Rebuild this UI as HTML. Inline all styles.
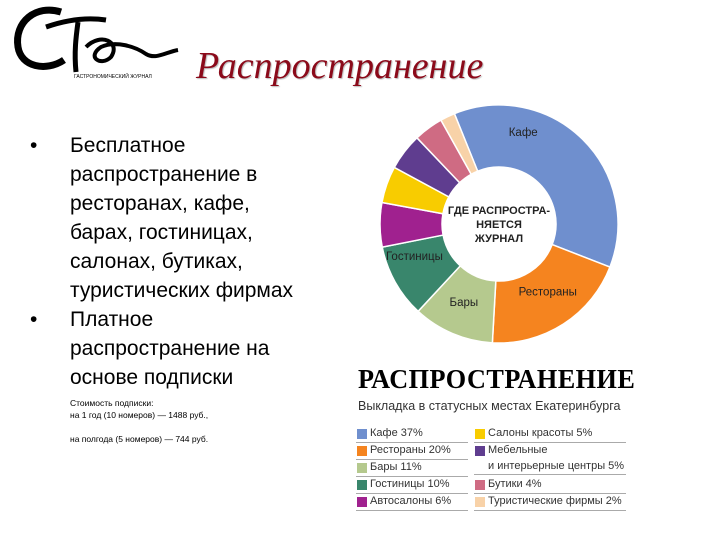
<!DOCTYPE html>
<html><head><meta charset="utf-8"><style>
body{margin:0;width:720px;height:540px;background:#fff;overflow:hidden;position:relative;font-family:"Liberation Sans","DejaVu Sans",sans-serif}
.abs{position:absolute}
</style></head><body>
<div class="abs" style="left:6px;top:2px;width:180px;height:80px">
<svg width="180" height="80">
<path d="M55 10 C30 2 8 20 12 45 C15 65 40 70 58 58" fill="none" stroke="#000" stroke-width="7"/>
<path d="M40 25 C60 18 80 15 100 18 M72 20 C70 35 68 50 70 70" fill="none" stroke="#000" stroke-width="5"/>
<path d="M80 45 C95 30 115 40 105 55 C95 65 80 55 95 45 C110 38 130 45 140 52 C150 58 160 50 172 48" fill="none" stroke="#000" stroke-width="4"/>
<text x="68" y="76" font-size="5" font-family="Liberation Sans" fill="#000">ГАСТРОНОМИЧЕСКИЙ ЖУРНАЛ</text>
</svg></div>
<div class="abs" style="left:196px;top:44px;font-family:'Liberation Serif',serif;font-style:italic;font-size:38px;color:#8b0a1a;text-shadow:1px 1px 1px #bbb">Распространение</div>
<div class="abs" style="left:30px;top:131px;font-size:21px;line-height:29px;color:#000;width:300px">
<div style="position:relative;padding-left:40px">
<span style="position:absolute;left:0">•</span>Бесплатное<br>распространение в<br>ресторанах, кафе,<br>барах, гостиницах,<br>салонах, бутиках,<br>туристических фирмах</div>
<div style="position:relative;padding-left:40px">
<span style="position:absolute;left:0">•</span>Платное<br>распространение на<br>основе подписки</div>
</div>
<div class="abs" style="left:70px;top:397px;font-size:8.5px;line-height:12px">Стоимость подписки:<br>на 1 год (10 номеров) — 1488 руб.,<br><br>на полгода (5 номеров) — 744 руб.</div>
<svg class="abs" id="chart" style="left:0;top:0" width="720" height="540"></svg>
<div class="abs" style="left:358px;top:364px;font-family:'Liberation Serif',serif;font-weight:bold;font-size:27px;letter-spacing:0.5px;transform:scaleX(0.97);transform-origin:left">РАСПРОСТРАНЕНИЕ</div>
<div class="abs" style="left:358px;top:399px;font-size:12.5px;color:#333">Выкладка в статусных местах Екатеринбурга</div>
<div class="abs" id="legend" style="left:356px;top:426px;width:280px;font-size:11px;color:#333"></div>
<script>
const categories=["Кафе","Рестораны","Бары","Гостиницы","Автосалоны","Салоны красоты","Мебельные и интерьерные центры","Бутики","Туристические фирмы"];
const values=[37,20,11,10,6,5,5,4,2];
const colors=["#6f8fce","#f5841f","#b5c98e","#39866c","#a0218f","#f8cc00","#5f3d8f","#cf6b83","#f8d2a8"];
const sliceLabels=["Кафе","Рестораны","Бары","Гостиницы","","","","",""];
const legendText=["Кафе 37%","Рестораны 20%","Бары 11%","Гостиницы 10%","Автосалоны 6%","Салоны красоты 5%","Мебельные<br>и интерьерные центры 5%","Бутики 4%","Туристические фирмы 2%"];
const labelOffsets=[[-46,-21],[0,-8],[0,-5],[-6,-12]];
const NS="http://www.w3.org/2000/svg";
const svg=document.getElementById('chart');
const cx=499,cy=224,R=119,r=57,start=-22;
const total=values.reduce((a,b)=>a+b,0);
function pt(a,rad){const t=(a-90)*Math.PI/180;return[cx+rad*Math.cos(t),cy+rad*Math.sin(t)];}
let acc=0;
values.forEach((v,i)=>{
const a0=start+acc/total*360,a1=start+(acc+v)/total*360;acc+=v;
const large=(a1-a0)>180?1:0;
const p0=pt(a0,R),p1=pt(a1,R),q1=pt(a1,r),q0=pt(a0,r);
const p=document.createElementNS(NS,'path');
p.setAttribute('d',`M${p0[0]},${p0[1]}A${R},${R} 0 ${large} 1 ${p1[0]},${p1[1]}L${q1[0]},${q1[1]}A${r},${r} 0 ${large} 0 ${q0[0]},${q0[1]}Z`);
p.setAttribute('fill',colors[i]);p.setAttribute('stroke','#fff');p.setAttribute('stroke-width','1.5');


svg.appendChild(p);
if(sliceLabels[i]){
const m=(a0+a1)/2;const lp=pt(m,i==0?100:90);const o=labelOffsets[i];
const t=document.createElementNS(NS,'text');
t.setAttribute('x',lp[0]+o[0]);t.setAttribute('y',lp[1]+4+o[1]);
t.setAttribute('text-anchor','middle');t.setAttribute('font-size','11.5');t.setAttribute('fill','#222');
t.setAttribute('font-family','Liberation Sans, sans-serif');


t.textContent=sliceLabels[i];svg.appendChild(t);}
});
["ГДЕ РАСПРОСТРА-","НЯЕТСЯ","ЖУРНАЛ"].forEach((s,k)=>{
const t=document.createElementNS(NS,'text');
t.setAttribute('x',cx);t.setAttribute('y',cy-10+k*14);t.setAttribute('text-anchor','middle');
t.setAttribute('font-size','11');t.setAttribute('font-weight','bold');t.setAttribute('fill','#222');
t.setAttribute('font-family','Liberation Sans, sans-serif');


t.textContent=s;svg.appendChild(t);});
const lg=document.getElementById('legend');
const cols=[[0,1,2,3,4],[5,6,7,8]];
cols.forEach((c,ci)=>{
let y=0;
c.forEach(i=>{
const two=legendText[i].includes('<br>');
const d=document.createElement('div');


d.style.cssText=`position:absolute;left:${ci?118:0}px;top:${y}px;width:${ci?152:112}px;border-bottom:1px solid #aaa;line-height:15.5px;padding-left:14px;box-sizing:border-box`;
d.innerHTML=`<span style="position:absolute;left:1px;top:3px;width:10px;height:10px;background:${colors[i]}"></span>`+legendText[i];
lg.appendChild(d);y+=two?34:17;});
});
</script>
</body></html>
